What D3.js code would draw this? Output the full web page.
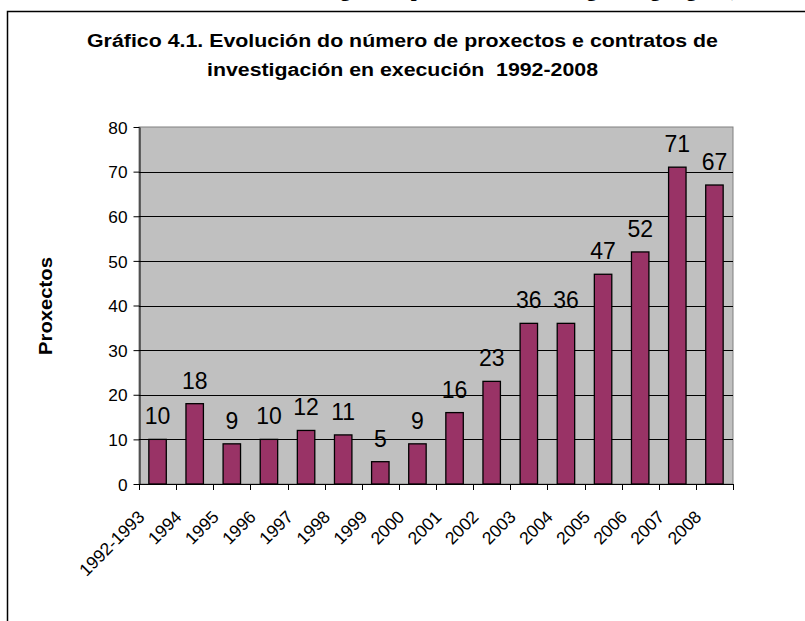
<!DOCTYPE html>
<html>
<head>
<meta charset="utf-8">
<script src="https://cdn.jsdelivr.net/npm/d3@7"></script>
<style>
  html, body { margin: 0; padding: 0; background: #fff; }
  svg { display: block; }
  text { font-family: Arial, "Liberation Sans", sans-serif; }
</style>
</head>
<body>
<div id="chart"></div>
<script>
// datos do gráfico
const anos = ["1992-1993", "1994", "1995", "1996", "1997", "1998", "1999", "2000",
              "2001", "2002", "2003", "2004", "2005", "2006", "2007", "2008"];
const proxectos = [10, 18, 9, 10, 12, 11, 5, 9, 16, 23, 36, 36, 47, 52, 71, 67];
const yTicks = [0, 10, 20, 30, 40, 50, 60, 70, 80];
const titulo = ["Gráfico 4.1. Evolución do número de proxectos e contratos de",
                "investigación en execución  1992-2008"];
// ancho das liñas do título (o texto do orixinal está estirado)
const tituloAncho = [631, 391];

const W = 805, H = 621;
const plot = {left: 139, right: 733, top: 127, bottom: 484};

const svg = d3.select("#chart").append("svg")
    .attr("width", W)
    .attr("height", H);

// texto do documento cortado arriba
svg.append("text")
    .attr("x", 480)
    .attr("y", -4.5)
    .attr("text-anchor", "middle")
    .style("font-family", "'Liberation Serif', 'Times New Roman', serif")
    .style("font-weight", "bold")
    .style("font-size", "21px")
    .text("1.4. A investigación: proxectos de investigación galegos, (");

// marco do gráfico
svg.append("rect")
    .attr("x", 7.5)
    .attr("y", 11.5)
    .attr("width", W + 20)
    .attr("height", H + 20)
    .attr("fill", "none")
    .attr("stroke", "#000")
    .attr("stroke-width", 1.5);

// título
svg.append("g")
    .selectAll("text")
    .data(titulo)
    .enter()
    .append("text")
    .attr("x", 402.5)
    .attr("y", (d, i) => 47 + i * 28.5)
    .attr("text-anchor", "middle")
    .attr("textLength", (d, i) => tituloAncho[i])
    .attr("lengthAdjust", "spacingAndGlyphs")
    .style("white-space", "pre")
    .style("font-weight", "bold")
    .style("font-size", "18px")
    .text(d => d);

// escalas
const x = d3.scaleBand()
    .domain(anos)
    .range([plot.left, plot.right])
    .paddingInner(0.53)
    .paddingOuter(0.265);

const y = d3.scaleLinear()
    .domain([0, 80])
    .range([plot.bottom, plot.top]);

// fondo da área de trazado
svg.append("rect")
    .attr("x", plot.left)
    .attr("y", plot.top)
    .attr("width", plot.right - plot.left)
    .attr("height", plot.bottom - plot.top)
    .attr("fill", "#c0c0c0")
    .attr("stroke", "#808080")
    .attr("stroke-width", 1);

// liñas de división
svg.append("g")
    .selectAll("line")
    .data(yTicks.filter(d => d > 0 && d < 80))
    .enter()
    .append("line")
    .attr("x1", plot.left)
    .attr("x2", plot.right)
    .attr("y1", d => Math.round(y(d)) + 0.5)
    .attr("y2", d => Math.round(y(d)) + 0.5)
    .attr("stroke", "#000")
    .attr("stroke-width", 1);

// eixo Y
const yAxis = svg.append("g")
    .attr("transform", `translate(${plot.left + 0.5},0)`)
    .call(d3.axisLeft(y).tickValues(yTicks).tickSize(6).tickPadding(6).tickSizeOuter(0));
yAxis.select(".domain").attr("stroke", "#000");
yAxis.selectAll(".tick line").attr("stroke", "#000");
yAxis.selectAll(".tick text")
    .attr("fill", "#000")
    .attr("textLength", d => String(d).length * 9.6)
    .attr("lengthAdjust", "spacingAndGlyphs")
    .style("font-family", "Arial, 'Liberation Sans', sans-serif")
    .style("font-size", "17px")
    .attr("dy", "0.36em");

// barras
svg.append("g")
    .selectAll("rect")
    .data(anos)
    .enter()
    .append("rect")
    .attr("x", d => x(d))
    .attr("y", (d, i) => y(proxectos[i]))
    .attr("width", x.bandwidth())
    .attr("height", (d, i) => y(0) - y(proxectos[i]))
    .attr("fill", "#993366")
    .attr("stroke", "#000")
    .attr("stroke-width", 1.3);

// eixo X con marcas nos límites das categorías
const step = x.step();
const limites = d3.range(anos.length + 1).map(i => plot.left + i * step);
svg.append("line")
    .attr("x1", plot.left)
    .attr("x2", plot.right)
    .attr("y1", plot.bottom + 0.5)
    .attr("y2", plot.bottom + 0.5)
    .attr("stroke", "#000");
svg.append("g")
    .selectAll("line")
    .data(limites)
    .enter()
    .append("line")
    .attr("x1", d => Math.round(d) + 0.5)
    .attr("x2", d => Math.round(d) + 0.5)
    .attr("y1", plot.bottom)
    .attr("y2", plot.bottom + 6)
    .attr("stroke", "#000");

// etiquetas do eixo X
svg.append("g")
    .selectAll("text")
    .data(anos)
    .enter()
    .append("text")
    .attr("text-anchor", "end")
    .attr("transform", d => `translate(${x(d) + x.bandwidth() / 2 - 12},${plot.bottom + 34}) rotate(-45)`)
    .style("font-size", "17.5px")
    .text(d => d);

// etiquetas de valor
svg.append("g")
    .selectAll("text")
    .data(anos)
    .enter()
    .append("text")
    .attr("x", d => x(d) + x.bandwidth() / 2)
    .attr("y", (d, i) => y(proxectos[i]) - 15)
    .attr("text-anchor", "middle")
    .style("font-size", "23px")
    .text((d, i) => proxectos[i]);

// título do eixo Y
svg.append("text")
    .attr("transform", "translate(52,306) rotate(-90)")
    .attr("text-anchor", "middle")
    .attr("textLength", 98)
    .attr("lengthAdjust", "spacingAndGlyphs")
    .style("font-weight", "bold")
    .style("font-size", "18px")
    .text("Proxectos");
</script>
</body>
</html>
